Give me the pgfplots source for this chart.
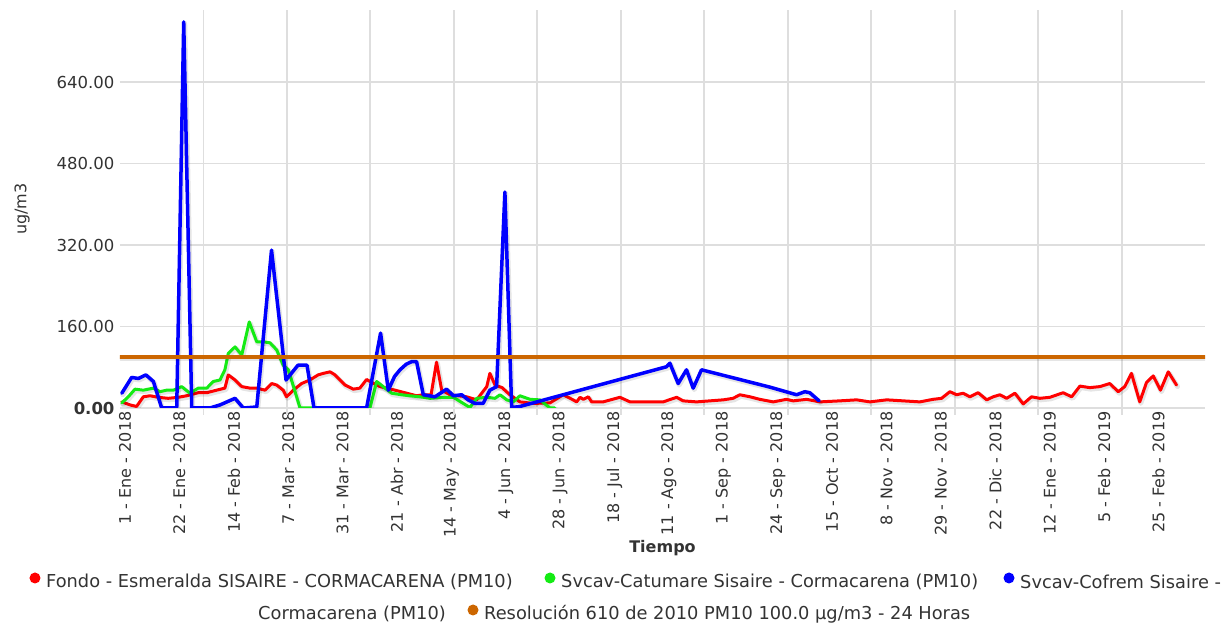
\documentclass[border=0pt]{standalone}
\usepackage{fontspec}
\setmainfont{DejaVu Sans}
\usepackage{pgfplots}
\pgfplotsset{compat=1.18}

\definecolor{sred}{RGB}{255,0,0}
\definecolor{sgreen}{RGB}{20,235,20}
\definecolor{sblue}{RGB}{0,0,255}
\definecolor{sorange}{RGB}{204,102,0}
\definecolor{gridgray}{RGB}{222,222,222}
\definecolor{txt}{RGB}{51,51,51}

\newcommand\legfont{\fontsize{17.8}{20}\selectfont\color{txt}}

\begin{document}
\begin{tikzpicture}
\path[use as bounding box] (-120pt,-215pt) rectangle (1107pt,408pt);
\begin{axis}[
  at={(0pt,0pt)}, anchor=south west,
  scale only axis, width=1085pt, height=398pt,
  xmin=0, xmax=418.9, ymin=0, ymax=781.5,
  axis line style={draw=none},
  xtick pos=bottom, ytick pos=left,
  major tick length=0pt,
  ytick={0,160,320,480,640},
  yticklabels={\textbf{0.00},160.00,320.00,480.00,640.00},
  xtick={0,21,...,399},
  xticklabels={1 - Ene - 2018, 22 - Ene - 2018, 14 - Feb - 2018, 7 - Mar - 2018,
    31 - Mar - 2018, 21 - Abr - 2018, 14 - May - 2018, 4 - Jun - 2018,
    28 - Jun - 2018, 18 - Jul - 2018, 11 - Ago - 2018, 1 - Sep - 2018,
    24 - Sep - 2018, 15 - Oct - 2018, 8 - Nov - 2018, 29 - Nov - 2018,
    22 - Dic - 2018, 12 - Ene - 2019, 5 - Feb - 2019, 25 - Feb - 2019},
  xticklabel style={rotate=90, anchor=east, yshift=-5pt, font=\fontsize{16}{18}\selectfont, color=txt},
  yticklabel style={font=\fontsize{16.5}{18}\selectfont, color=txt, xshift=-2pt},
  ymajorgrids, grid style={draw=gridgray, line width=1.8pt},
  extra x ticks={32.22,64.45,96.67,128.89,161.12,193.34,225.57,257.79,290.02,322.24,354.47,386.69},
  extra x tick labels={},
  extra x tick style={grid=major, major tick length=7pt, tick align=outside,
    major tick style={draw=gridgray, line width=1.8pt}},
  every axis x label/.style={at={(axis description cs:0.5,-0.352)}, anchor=center},
  every axis y label/.style={at={(axis description cs:-0.0903,0.5)}, rotate=90, anchor=center},
  xlabel={\fontsize{16}{18}\selectfont\bfseries Tiempo},
  ylabel={\fontsize{16}{18}\selectfont ug/m3},
  label style={color=txt},
  every axis plot/.append style={line join=round, line cap=round,
    preaction={draw=black, opacity=0.10, line width=5pt,
      transform canvas={xshift=1pt, yshift=-1.5pt}}},
]
% Fondo - Esmeralda
\addplot[sred, line width=3pt] coordinates {
(0.7,12)(3.9,6)(6.4,3)(9.0,22)(11.6,24)(14.8,21)(18.6,19)(22.5,21)(25.7,24)(30.2,30)
(33.5,30)(37.3,35)(40.5,39)(41.8,65)(44.4,55)(47.0,42)(50.2,39)(52.8,39)(56.0,35)(58.6,48)
(60.5,45)(63.0,35)(64.3,22)(66.9,35)(70.1,48)(73.3,55)(76.5,65)(78.5,68)(81.1,71)(83.0,65)
(86.9,45)(90.1,37)(92.6,39)(95.2,56)(96.5,52)(100.4,42)(106.2,35)(110.7,29)(114.5,24)(117.1,26)
(120.1,26)(122.2,90)(124.2,35)(127.4,26)(133.8,22)(137.7,16)(141.6,42)(142.8,68)(144.8,45)(147.5,40)
(150.5,26)(154.4,12)(159.5,9)(166.0,10)(171.1,26)(174.9,16)(176.3,12)(177.6,21)(178.9,17)(180.8,22)
(182.1,12)(186.5,12)(193.0,21)(196.9,12)(203.3,12)(209.7,12)(214.9,21)(217.4,14)(222.6,12)(227.7,14)
(232.9,16)(236.7,19)(239.3,26)(243.2,22)(247.0,17)(252.2,12)(257.3,17)(259.9,14)(265.1,17)(270.2,12)
(277.9,14)(284.4,16)(289.5,12)(296.0,16)(302.4,14)(308.8,12)(313.9,17)(317.2,19)(320.4,32)(323.0,26)
(325.5,29)(328.1,22)(331.3,30)(334.6,16)(337.1,22)(339.7,26)(342.3,19)(345.5,29)(348.7,8)(351.9,22)
(355.1,19)(359.0,21)(364.1,30)(367.4,22)(370.6,43)(374.4,40)(378.3,42)(382.1,48)(385.4,32)(387.9,42)
(390.5,68)(393.7,12)(396.3,50)(398.9,63)(401.7,35)(404.7,71)(407.9,45)};
% Svcav-Catumare
\addplot[sgreen, line width=3pt] coordinates {
(0.7,10)(3.2,22)(5.8,37)(9.0,35)(12.9,39)(15.4,32)(18.0,35)(20.6,35)(23.8,42)(27.0,29)
(30.2,39)(33.5,39)(36.0,52)(38.6,55)(40.5,75)(41.8,107)(44.4,120)(47.0,104)(49.9,169)(52.8,130)
(55.3,130)(57.9,128)(60.5,114)(63.0,84)(65.0,75)(68.2,22)(69.5,0)(96.5,0)(99.1,52)(102.3,39)
(104.9,29)(108.7,26)(111.9,24)(115.8,22)(119.7,19)(124.8,21)(128.7,21)(132.5,9)(135.1,1)(137.7,19)
(141.6,21)(144.8,19)(146.7,26)(149.3,16)(151.8,12)(154.4,24)(158.3,17)(162.1,16)(166.0,0)(167.9,0)};
% Svcav-Cofrem
\addplot[sblue, line width=3.5pt] coordinates {
(0.7,29)(4.5,60)(7.1,58)(10.0,65)(12.9,52)(16.1,0)(21.9,0)(24.6,758)(27.7,0)(34.7,0)
(38.6,6)(44.4,19)(47.6,0)(52.8,2)(58.5,310)(64.1,55)(68.7,84)(72.2,84)(74.9,0)(95.2,0)
(100.6,147)(103.6,35)(106.0,62)(108.1,75)(110.5,86)(112.6,91)(114.5,91)(117.1,26)(121.6,22)(126.1,37)
(128.7,24)(131.9,26)(134.4,16)(137.0,9)(140.2,9)(142.8,35)(145.4,42)(148.6,424)(151.2,1)(154.4,3)
(211.0,81)(212.3,88)(215.5,48)(218.7,75)(221.3,39)(224.5,75)(250.9,41)(261.2,26)(264.4,32)(266.3,30)
(269.9,14)};
% Resolucion 610 de 2010
\addplot[sorange, line width=4pt] coordinates {(0,100)(418.9,100)};
\end{axis}

% legend, set in two lines as in the reference
\fill[sred] (-85pt,-170pt) circle (5.5pt);
\node[anchor=west, inner sep=0pt, font=\legfont] at (-74pt,-174pt) {Fondo - Esmeralda SISAIRE - CORMACARENA (PM10)};
\fill[sgreen] (430pt,-170pt) circle (5.5pt);
\node[anchor=west, inner sep=0pt, font=\legfont] at (441pt,-174pt) {Svcav-Catumare Sisaire - Cormacarena (PM10)};
\fill[sblue] (889pt,-170pt) circle (5.5pt);
\node[anchor=west, inner sep=0pt, font=\legfont] at (900pt,-174pt) {Svcav-Cofrem Sisaire -};
\node[anchor=west, inner sep=0pt, font=\legfont] at (138pt,-206pt) {Cormacarena (PM10)};
\fill[sorange] (353pt,-202pt) circle (5.5pt);
\node[anchor=west, inner sep=0pt, font=\legfont] at (364pt,-206pt) {Resolución 610 de 2010 PM10 100.0 µg/m3 - 24 Horas};
\end{tikzpicture}
\end{document}
